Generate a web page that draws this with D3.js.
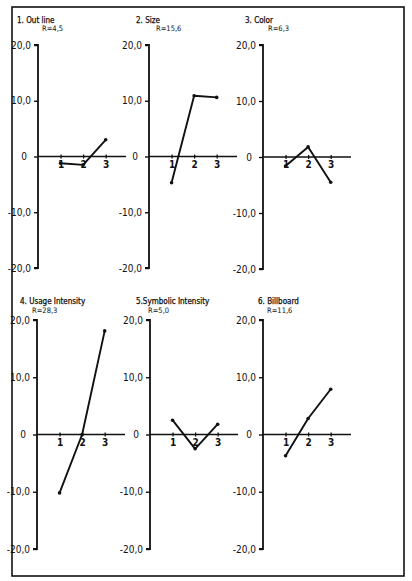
<!DOCTYPE html>
<html><head><meta charset="utf-8">
<script src="https://cdn.jsdelivr.net/npm/d3@7"></script>
<style>
html,body{margin:0;padding:0;background:#fff;}
svg text{font-family:"DejaVu Sans Condensed","DejaVu Sans",sans-serif;fill:#111;}
</style></head>
<body>
<svg id="c" width="412" height="581"></svg>
<script>
const titles = ["1. Out line","2. Size","3. Color","4. Usage Intensity","5.Symbolic Intensity","6. Billboard"];
const rLabels = ["R=4,5","R=15,6","R=6,3","R=28,3","R=5,0","R=11,6"];
const categories = [1,2,3];
const values1 = [-1.2,-1.5,3.0];
const values2 = [-4.7,10.9,10.6];
const values3 = [-1.6,1.8,-4.5];
const values4 = [-10.2,0.0,18.1];
const values5 = [2.5,-2.5,1.8];
const values6 = [-3.7,2.8,7.9];
const series = [values1,values2,values3,values4,values5,values6];
const yTicks = [20,10,0,-10,-20];
const yTickLabels = ["20,0","10,0","0","-10,0","-20,0"];

const svg = d3.select("#c");
// outer frame
svg.append("rect").attr("x",12).attr("y",7).attr("width",392).attr("height",569)
  .attr("fill","none").attr("stroke","#111").attr("stroke-width",1.6);

const layout = [
  {ax:38, top:45, bot:268, tx:17, ty:23, rx:42, ry:31},
  {ax:149, top:45, bot:268, tx:136, ty:23, rx:156, ry:31},
  {ax:263, top:45, bot:269, tx:245, ty:23, rx:268, ry:31},
  {ax:37, top:320, bot:549, tx:20, ty:304, rx:32, ry:313},
  {ax:150, top:320, bot:549, tx:136, ty:304, rx:148, ry:313},
  {ax:263, top:320, bot:549, tx:258, ty:304, rx:267, ry:313}
];

series.forEach((vals,i)=>{
  const L = layout[i];
  const g = svg.append("g");
  const y = d3.scaleLinear().domain([-20,20]).range([L.bot,L.top]);
  const x = d3.scaleLinear().domain([0,3.9]).range([L.ax,L.ax+88]);
  // titles
  g.append("text").attr("x",L.tx).attr("y",L.ty).attr("font-size",8).attr("stroke","#111").attr("stroke-width",0.25).text(titles[i]);
  g.append("text").attr("x",L.rx).attr("y",L.ry).attr("font-size",7.5).text(rLabels[i]);
  // y axis
  const ya = d3.axisLeft(y).tickValues(yTicks).tickSize(4).tickPadding(3)
    .tickFormat((d,k)=>yTickLabels[k]);
  const yg = g.append("g").attr("transform",`translate(${L.ax},0)`).call(ya);
  yg.select(".domain").attr("stroke","#111").attr("stroke-width",1.8)
    .attr("d",`M-4,${L.top}H0V${L.bot}H-4`);
  yg.selectAll(".tick line").attr("stroke","#111").attr("stroke-width",1.4);
  yg.selectAll(".tick text").attr("font-size",10).attr("fill","#111")
    .attr("font-family","DejaVu Sans Condensed, DejaVu Sans, sans-serif");
  yg.selectAll(".tick").filter(d=>d===0).select("text").attr("dx",-4);
  // x axis at zero
  const xa = d3.axisBottom(x).tickValues(categories).tickSize(0).tickPadding(4).tickFormat(d3.format("d"));
  const xg = g.append("g").attr("transform",`translate(0,${y(0)})`).call(xa);
  xg.select(".domain").attr("stroke","#111").attr("stroke-width",1.4).attr("d",`M${L.ax},0H${L.ax+88}`);
  xg.selectAll(".tick line").attr("y1",-2).attr("y2",2).attr("stroke","#111").attr("stroke-width",1.3);
  xg.selectAll(".tick text").attr("font-size",10).attr("fill","#111").attr("font-weight","bold")
    .attr("font-family","DejaVu Sans Condensed, DejaVu Sans, sans-serif");
  // data line
  const line = d3.line().x((d,k)=>x(categories[k])).y(d=>y(d));
  g.append("path").datum(vals).attr("d",line).attr("fill","none")
    .attr("stroke","#111").attr("stroke-width",1.9).attr("stroke-linejoin","round");
  g.selectAll("circle.pt").data(vals).enter().append("circle")
    .attr("cx",(d,k)=>x(categories[k])).attr("cy",d=>y(d)).attr("r",1.8).attr("fill","#111");
});
</script>
</body></html>
